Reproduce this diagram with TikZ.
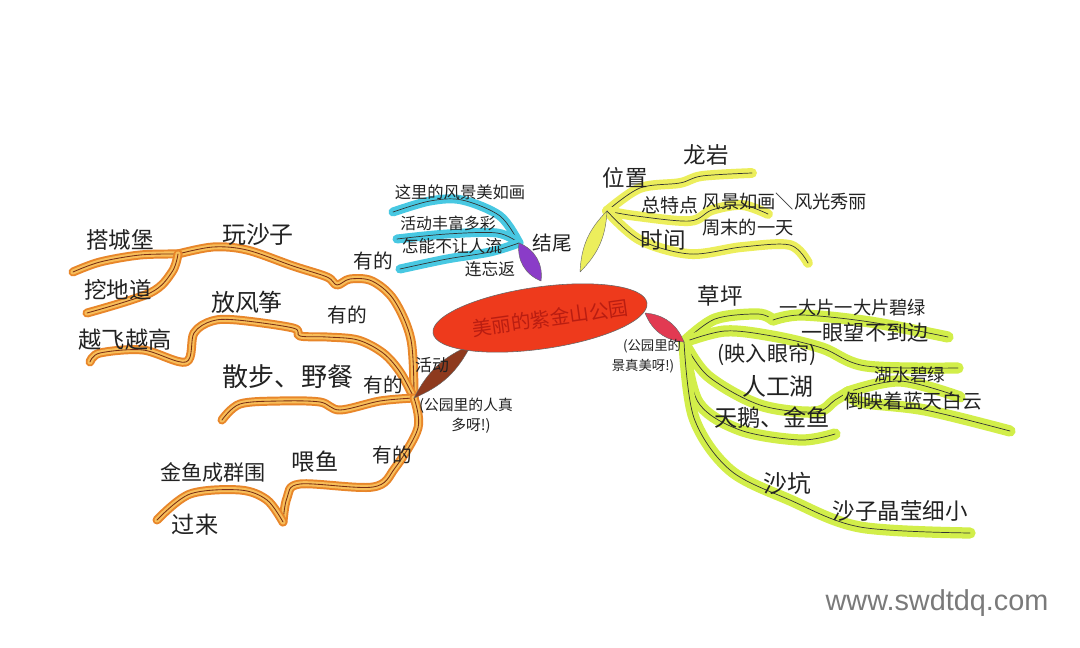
\documentclass[tikz,border=0pt]{standalone}
\usepackage{fontspec}
\newfontfamily\cjk{Noto Sans CJK SC}
\newfontfamily\wmfont{Liberation Sans}
\usetikzlibrary{shapes.geometric}
\definecolor{orD}{HTML}{E8862A}
\definecolor{orL}{HTML}{F7BE5A}
\definecolor{orC}{HTML}{7A2E12}
\definecolor{limeC}{HTML}{D2EE4A}
\definecolor{yelC}{HTML}{ECEE5C}
\definecolor{cyanC}{HTML}{48C8E2}
\definecolor{redC}{HTML}{EE3A1C}
\definecolor{purC}{HTML}{8A3CC8}
\definecolor{pinkC}{HTML}{E23A52}
\definecolor{brnC}{HTML}{8E3A1E}
\definecolor{inkC}{HTML}{222222}
\definecolor{ttlC}{HTML}{A8140E}
\definecolor{wmC}{HTML}{7A7A7A}
\begin{document}
\begin{tikzpicture}[x=0.025cm,y=-0.025cm,
  txt/.style={inner sep=0pt, text=inkC, font=\cjk\fontsize{#1}{#1}\selectfont},
  ob/.style={draw=orC, line width=0.6pt, line cap=round, line join=round,
    preaction={draw=orD, line width=6.4pt, line cap=round, line join=round},
    preaction={draw=orL, line width=3.6pt, line cap=round, line join=round}},
  gb/.style={draw=black!80, line width=0.5pt, line cap=round,
    preaction={draw=limeC, line width=8pt, line cap=round, line join=round}},
  yb/.style={draw=black!80, line width=0.5pt, line cap=round,
    preaction={draw=yelC, line width=7pt, line cap=round, line join=round}},
  bb/.style={draw=black!80, line width=0.5pt, line cap=round,
    preaction={draw=cyanC, line width=6.4pt, line cap=round, line join=round}},
  leaf/.style={fill=#1, draw=black!60, line width=0.3pt},
  sm/.style={smooth, tension=0.55}
]
\useasboundingbox (0,0) rectangle (1080,648);
\fill[white] (0,0) rectangle (1080,648);

% ---------- coordinates ----------
\coordinate (pb) at (519,243);
\coordinate (pe) at (541,281);
\coordinate (b1) at (393,212);
\coordinate (b2) at (397,239);
\coordinate (b3) at (400,269);
\coordinate (ys) at (580,272);
\coordinate (yh) at (607,211);
\coordinate (y1) at (752,173);
\coordinate (y2) at (768,214);
\coordinate (y3) at (808,263);
\coordinate (gs) at (645,313);
\coordinate (gh) at (684,342);
\coordinate (g1s) at (773,320);
\coordinate (g1a) at (948,337);
\coordinate (g2) at (958,368);
\coordinate (g3s) at (848,392);
\coordinate (g3a) at (960,397);
\coordinate (g3b) at (1010,431);
\coordinate (g4) at (835,434);
\coordinate (g5) at (970,533);
\coordinate (bs) at (471,345);
\coordinate (oh) at (414,398);
\coordinate (o1s) at (178,254);
\coordinate (o1a) at (73,272);
\coordinate (o1b) at (87,313);
\coordinate (o2) at (90,362);
\coordinate (o3) at (222,420);
\coordinate (o4c) at (283,522);
\coordinate (o4) at (157,520);

% ---------- blue (ending) ----------
\draw[bb] plot[sm] coordinates {(pb) (500,216) (462,200) (430,201) (b1)};
\draw[bb] plot[sm] coordinates {(pb) (497,233) (447,234) (b2)};
\draw[bb] plot[sm] coordinates {(pb) (490,252) (447,259) (b3)};

% ---------- yellow ----------
\draw[yb] plot[sm] coordinates {(yh) (640,188) (680,183) (702,176) (y1)};
\draw[yb] plot[sm] coordinates {(yh) (636,216) (690,221) (712,210) (742,205) (y2)};
\draw[yb] plot[sm] coordinates {(yh) (640,240) (690,254) (742,247) (790,245) (y3)};

% ---------- green ----------
\draw[gb] plot[sm] coordinates {(gh) (715,319) (758,314) (g1s)};
\draw[gb] plot[sm] coordinates {(g1s) (802,315) (870,322) (g1a)};
\draw[gb] plot[sm] coordinates {(gh) (725,331) (772,336) (822,348) (866,366) (g2)};
\draw[gb] plot[sm] coordinates {(gh) (708,376) (760,405) (815,412) (835,400) (g3s)};
\draw[gb] plot[sm] coordinates {(g3s) (900,381) (g3a)};
\draw[gb] plot[sm] coordinates {(g3s) (860,402) (925,410) (g3b)};
\draw[gb] plot[sm] coordinates {(gh) (698,402) (740,430) (800,440) (g4)};
\draw[gb] plot[sm] coordinates {(gh) (694,418) (730,470) (790,500) (860,527) (g5)};

% ---------- orange ----------
\draw[ob] plot[sm] coordinates {(oh) (411,340) (394,300) (372,281) (350,279) (337,285) (327,277) (293,266) (247,250) (213,247) (o1s)};
\draw[ob] plot[sm] coordinates {(o1s) (140,255) (100,262) (o1a)};
\draw[ob] plot[sm] coordinates {(o1s) (172,272) (150,293) (o1b)};
\draw[ob] plot[sm] coordinates {(oh) (400,372) (383,353) (358,340) (327,337) (300,336) (293,328) (237,320) (212,321) (194,333) (186,362) (143,350) (100,353) (o2)};
\draw[ob] plot[sm] coordinates {(oh) (380,401) (340,410) (320,402) (280,401) (240,404) (o3)};
\draw[ob] plot[sm] coordinates {(oh) (418,428) (395,468) (373,487) (300,484) (287,498) (o4c)};
\draw[ob] plot[sm] coordinates {(o4c) (267,500) (240,490) (190,494) (o4)};

% ---------- leaves ----------
\draw[leaf=purC] (pb) to[bend left=38] (pe) to[bend left=38] (pb);
\draw[leaf=yelC] (ys) to[bend left=21] (yh) to[bend left=21] (ys);
\draw[leaf=pinkC] (gs) to[bend left=32] (gh) to[bend left=32] (gs);
\draw[leaf=brnC] (bs) to[bend left=20] (oh) to[bend left=20] (bs);

% ---------- centre ----------
\node[ellipse, fill=redC, draw=black!60, line width=0.4pt, rotate=8,
  minimum width=5.4cm, minimum height=1.55cm] (c) at (540,318) {};
\node[inner sep=0pt, text=ttlC, opacity=0.75, rotate=8,
  font=\cjk\fontsize{14}{14}\selectfont] (title) at (550,318) {美丽的紫金山公园};

% ---------- texts: ending ----------
\node[txt=11.6] (tb1) at (460,192) {这里的风景美如画};
\node[txt=11.3] (tb2) at (448,223) {活动丰富多彩};
\node[txt=11.9] (tb3) at (452,246) {怎能不让人流};
\node[txt=11.9] (tb4) at (490,269) {连忘返};
\node[txt=14] (tend) at (552,243) {结尾};

% ---------- texts: yellow ----------
\node[txt=16] (ty1) at (625,178) {位置};
\node[txt=16] (ty1v) at (706,155) {龙岩};
\node[txt=13.5] (ty2) at (670,205) {总特点};
\node[txt=13] (ty2v) at (785,202) {风景如画＼风光秀丽};
\node[txt=16] (ty3) at (663,240) {时间};
\node[txt=13] (ty3v) at (748,228) {周末的一天};

% ---------- texts: green ----------
\node[txt=9.5] (tp1) at (652,346) {(公园里的};
\node[txt=9.5] (tp2) at (643,366) {景真美呀!)};
\node[txt=16] (tg1) at (720,296) {草坪};
\node[txt=13] (tg1a) at (853,308) {一大片一大片碧绿};
\node[txt=15] (tg1b) at (865,333) {一眼望不到边};
\node[txt=15] (tg2) at (767,355) {(映入眼帘)};
\node[txt=17] (tg3) at (778,386) {人工湖};
\node[txt=12.5] (tg3a) at (910,375) {湖水碧绿};
\node[txt=14] (tg3b) at (913,401) {倒映着蓝天白云};
\node[txt=16.5] (tg4) at (772,418) {天鹅、金鱼};
\node[txt=17] (tg5) at (787,483) {沙坑};
\node[txt=16] (tg5v) at (900,511) {沙子晶莹细小};

% ---------- texts: orange ----------
\node[txt=12] (tact) at (432,365) {活动};
\node[txt=10.5] (to1) at (466,406) {(公园里的人真};
\node[txt=10.5] (to2) at (471,426) {多呀!)};
\node[txt=17] (tw) at (258,235) {玩沙子};
\node[txt=14] (tyo1) at (373,261) {有的};
\node[txt=16] (tda) at (120,240) {搭城堡};
\node[txt=16] (twa) at (118,290) {挖地道};
\node[txt=17] (tfa) at (247,302) {放风筝};
\node[txt=14] (tyo2) at (347,315) {有的};
\node[txt=16.5] (tyue) at (125,340) {越飞越高};
\node[txt=18.5] (tsan) at (288,377) {散步、野餐};
\node[txt=14] (tyo3) at (383,385) {有的};
\node[txt=16.5] (twei) at (315,462) {喂鱼};
\node[txt=14] (tyo4) at (392,455) {有的};
\node[txt=15] (tjin) at (213,472) {金鱼成群围};
\node[txt=16.5] (tguo) at (195,525) {过来};

% ---------- watermark ----------
\node[inner sep=0pt, text=wmC, font=\wmfont\fontsize{20.5}{20.5}\selectfont] (wm) at (937,603) {www.swdtdq.com};
\end{tikzpicture}
\end{document}
